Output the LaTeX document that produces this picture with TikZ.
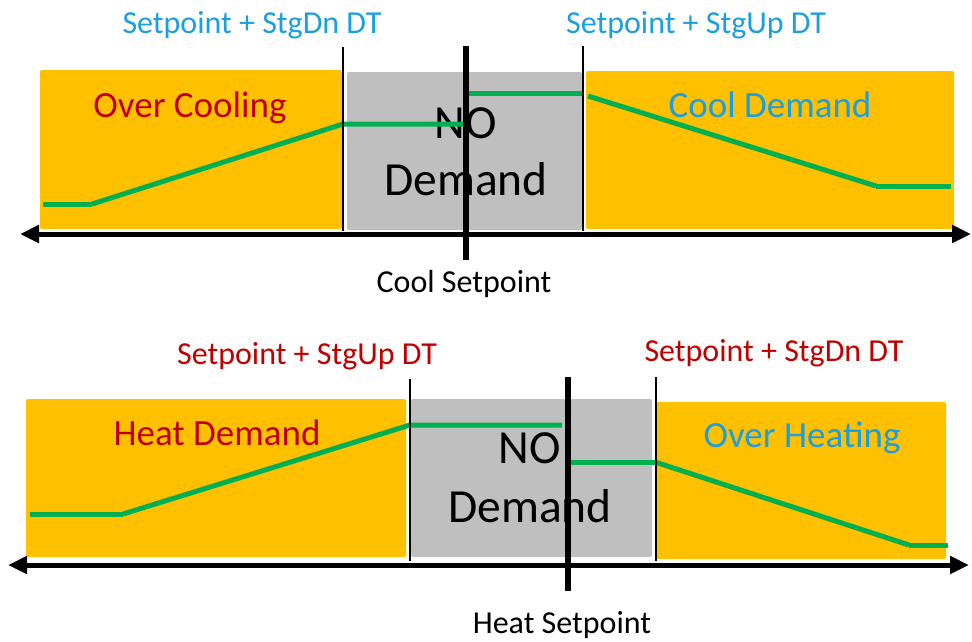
\documentclass[tikz,border=0pt]{standalone}
\usepackage{fontspec}
\setmainfont{Carlito}
\usetikzlibrary{arrows.meta}
\definecolor{zoneOrange}{HTML}{FFC000}
\definecolor{zoneGray}{HTML}{BFBFBF}
\definecolor{curveGreen}{HTML}{00B050}
\definecolor{labelBlue}{HTML}{1A9FE0}
\definecolor{labelRed}{HTML}{C00000}
\tikzset{
  zone/.style={rounded corners=2pt},
  curve/.style={curveGreen, line width=5pt},
  setline/.style={line width=1.4pt},
  spline/.style={line width=5.5pt},
  axisline/.style={line width=5pt, {Triangle[length=19pt,width=17pt]}-{Triangle[length=19pt,width=17pt]}},
  setlabel/.style={anchor=base, font=\fontsize{32}{33}\selectfont},
  zonelabel/.style={anchor=base, font=\fontsize{37}{38}\selectfont},
  nolabel/.style={anchor=base, font=\fontsize{47.5}{48}\selectfont},
  axislabel/.style={anchor=base, font=\fontsize{32}{33}\selectfont}
}
\begin{document}
\begin{tikzpicture}[x=1pt,y=-1pt]
    \useasboundingbox (0,0) rectangle (972,641);
    % cooling
    \fill[zoneOrange, zone] (40,70) rectangle (342,229);
    \fill[zoneGray, zone] (347,72) rectangle (582,230);
    \fill[zoneOrange, zone] (586,71) rectangle (954,229);
    \node[setlabel, labelBlue] (coolDn) at (252,33) {Setpoint + StgDn DT};
    \node[setlabel, labelBlue] (coolUp) at (696,33) {Setpoint + StgUp DT};
    \node[zonelabel, labelRed] (overCool) at (190,117) {Over Cooling};
    \node[zonelabel, labelBlue] (coolDem) at (770,117) {Cool Demand};
    \node[nolabel] (coolNo) at (466,138) {NO};
    \node[nolabel] (coolNoDem) at (466,195) {Demand};
    \node[axislabel] (coolSp) at (464,292) {Cool Setpoint};
    \draw[curve] (43,204) -- (92,204);
    \draw[curve] (92,204) -- (343,124) -- (464,124);
    \draw[curve] (468,93) -- (583,93);
    \draw[curve] (588,96) -- (876,186);
    \draw[curve] (876,186) -- (951,186);
    \draw[setline] (343,47) -- (343,231);
    \draw[setline] (583,46) -- (583,231);
    \draw[spline] (466,46) -- (466,260);
    \draw[axisline] (20,234) -- (971,234);
    % heating
    \fill[zoneOrange, zone] (26,399) rectangle (406,557);
    \fill[zoneGray, zone] (411,399) rectangle (652,557);
    \fill[zoneOrange, zone] (656,402) rectangle (946,559);
    \node[setlabel, labelRed] (heatUp) at (307,364) {Setpoint + StgUp DT};
    \node[setlabel, labelRed] (heatDn) at (774,361) {Setpoint + StgDn DT};
    \node[zonelabel, labelRed] (heatDem) at (217,445) {Heat Demand};
    \node[zonelabel, labelBlue] (overHeat) at (802,447) {Over Heating};
    \node[nolabel] (heatNo) at (530,463) {NO};
    \node[nolabel] (heatNoDem) at (530,522) {Demand};
    \node[axislabel] (heatSp) at (562,633) {Heat Setpoint};
    \draw[curve] (30,514) -- (123,514);
    \draw[curve] (123,514) -- (410,425) -- (562,425);
    \draw[curve] (568,462) -- (655,462);
    \draw[curve] (655,462) -- (909,545);
    \draw[curve] (909,545) -- (948,545);
    \draw[setline] (410,379) -- (410,561);
    \draw[setline] (656,377) -- (656,561);
    \draw[spline] (568,377) -- (568,591);
    \draw[axisline] (8,565) -- (969,565);
\end{tikzpicture}
\end{document}
